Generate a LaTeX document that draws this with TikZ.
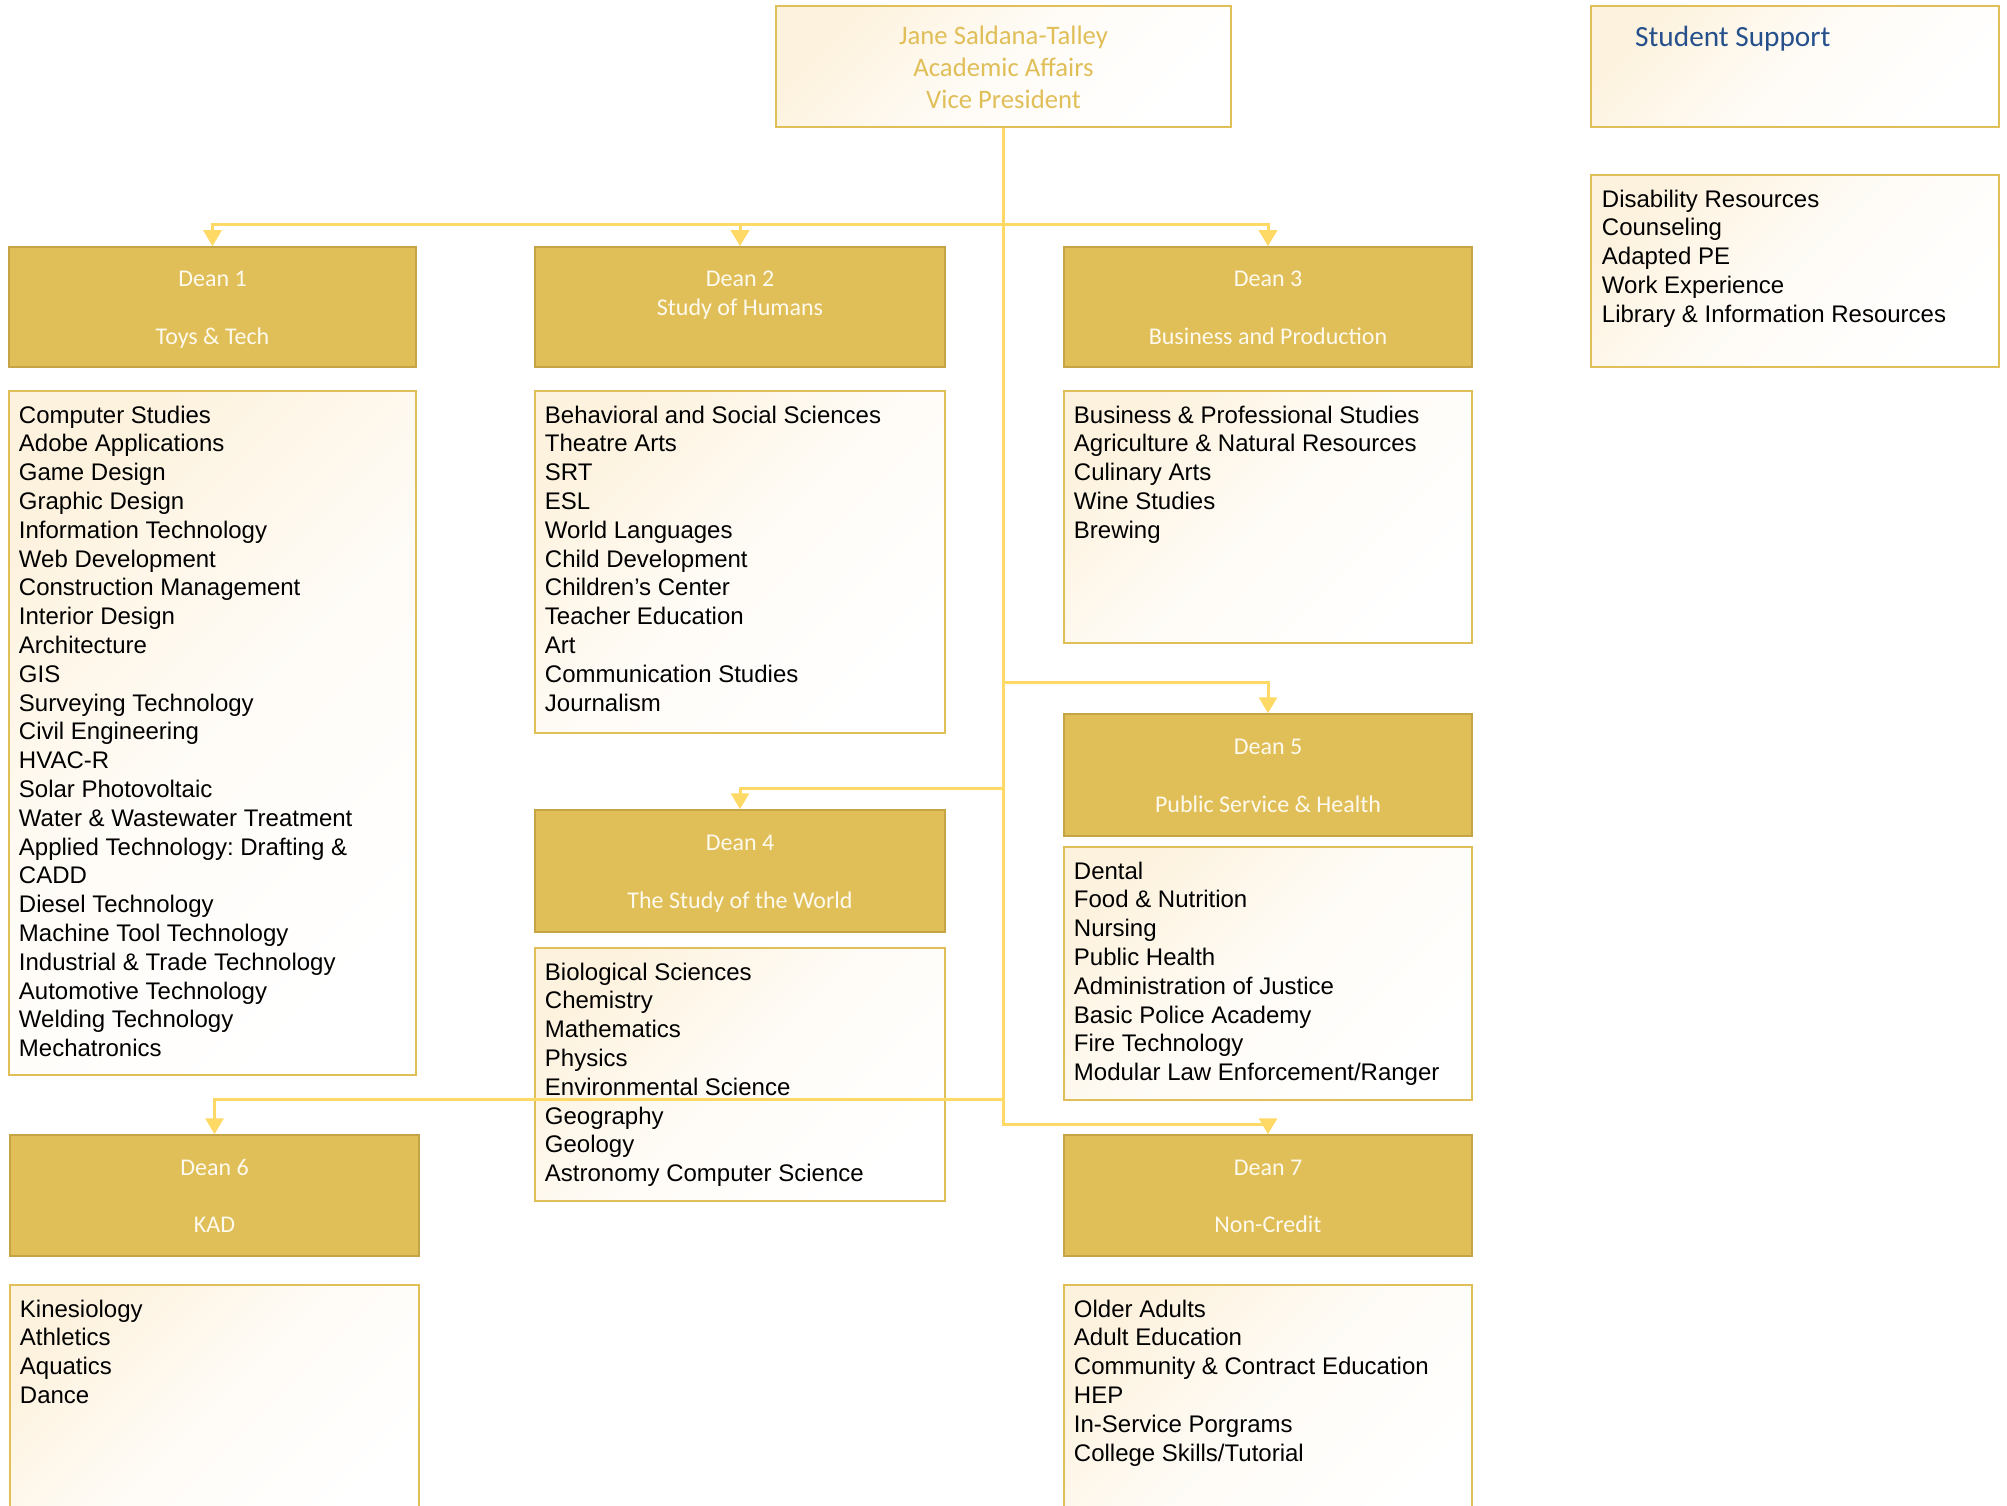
\documentclass[tikz,border=0pt]{standalone}
\usepackage{fontspec}
\setmainfont{Liberation Sans}
\newfontfamily\calfont{Carlito}
\usetikzlibrary{arrows.meta}
\frenchspacing
\definecolor{gold}{HTML}{E0BE58}
\definecolor{golddark}{HTML}{C4A445}
\definecolor{linecol}{HTML}{FFD966}
\definecolor{cream}{HTML}{FDF2DE}
\definecolor{ssblue}{HTML}{25508C}
\definecolor{deantext}{HTML}{FFFAEE}
\newcommand\deantopstrut{\rule{0pt}{25.5pt}}
\newcommand\vptopstrut{\rule{0pt}{30.5pt}}
\tikzset{
  deanbox/.style={draw=golddark, line width=1.5pt, fill=gold, text=deantext,
    font=\calfont\fontsize{24}{28.8}\selectfont, align=center, inner sep=0pt},
  listbox/.style={draw=gold, line width=2.5pt, top color=cream, bottom color=white,
    middle color=white!75!cream, shading angle=45, inner sep=0pt},
  listtext/.style={font=\fontsize{24}{28.8}\selectfont, align=left, anchor=north west,
    inner sep=0pt, text=black},
  connector/.style={draw=linecol, line width=3pt, -{Triangle[width=18pt,length=16pt]}}
}
\begin{document}
\begin{tikzpicture}[x=1pt,y=-1pt]
\useasboundingbox (0,0) rectangle (2007,1506);
\clip (0,0) rectangle (2007,1506);
\fill[white] (0,0) rectangle (2007,1506);

% VP box
\node[listbox, minimum width=455pt, minimum height=121pt, text=gold,
  font=\calfont\fontsize{26.7}{32}\selectfont, align=center] (vp) at (1003.5,66.5)
  {\vptopstrut Jane Saldana-Talley\\\strut Academic Affairs\\\strut Vice President};

% Student support
\node[listbox, minimum width=408pt, minimum height=121pt] (ssbox) at (1795,66.5) {};
\node[anchor=base west, inner sep=0pt, text=ssblue,
  font=\calfont\fontsize{29.3}{34}\selectfont] (sstitle) at (1635,47) {Student Support};
\node[listbox, minimum width=408pt, minimum height=192pt] (sslist) at (1795,271) {};
\node[listtext] (sstext) at ([xshift=12pt,yshift=-13pt]sslist.north west)
  {\strut Disability Resources\\Counseling\\Adapted PE\\Work Experience\\Library \& Information Resources};

% Dean boxes
\node[deanbox, minimum width=407pt, minimum height=120pt] (d1) at (212.5,307)
  {\deantopstrut Dean 1\\\strut\\\strut Toys \& Tech};
\node[deanbox, minimum width=410pt, minimum height=120pt] (d2) at (740,307)
  {\deantopstrut Dean 2\\\strut Study of Humans\\\strut};
\node[deanbox, minimum width=408pt, minimum height=120pt] (d3) at (1268,307)
  {\deantopstrut Dean 3\\\strut\\\strut Business and Production};
\node[deanbox, minimum width=410pt, minimum height=122pt] (d4) at (740,871)
  {\deantopstrut Dean 4\\\strut\\\strut The Study of the World};
\node[deanbox, minimum width=408pt, minimum height=122pt] (d5) at (1268,775)
  {\deantopstrut Dean 5\\\strut\\\strut Public Service \& Health};
\node[deanbox, minimum width=409pt, minimum height=121pt] (d6) at (214.5,1195.5)
  {\deantopstrut Dean 6\\\strut\\\strut KAD};
\node[deanbox, minimum width=408pt, minimum height=121pt] (d7) at (1268,1195.5)
  {\deantopstrut Dean 7\\\strut\\\strut Non-Credit};

% List boxes
\node[listbox, minimum width=407pt, minimum height=684pt] (l1) at (212.5,733) {};
\node[listtext] (t1) at ([xshift=11pt,yshift=-13pt]l1.north west)
  {\strut Computer Studies\\Adobe Applications\\Game Design\\Graphic Design\\Information Technology\\Web Development\\Construction Management\\Interior Design\\Architecture\\GIS\\Surveying Technology\\Civil Engineering\\HVAC-R\\Solar Photovoltaic\\Water \& Wastewater Treatment\\Applied Technology: Drafting \&\\CADD\\Diesel Technology\\Machine Tool Technology\\Industrial \& Trade Technology\\Automotive Technology\\Welding Technology\\Mechatronics};

\node[listbox, minimum width=410pt, minimum height=342pt] (l2) at (740,562) {};
\node[listtext] (t2) at ([xshift=11pt,yshift=-13pt]l2.north west)
  {\strut Behavioral and Social Sciences\\Theatre Arts\\SRT\\ESL\\World Languages\\Child Development\\Children’s Center\\Teacher Education\\Art\\Communication Studies\\Journalism};

\node[listbox, minimum width=408pt, minimum height=252pt] (l3) at (1268,517) {};
\node[listtext] (t3) at ([xshift=11pt,yshift=-13pt]l3.north west)
  {\strut Business \& Professional Studies\\Agriculture \& Natural Resources\\Culinary Arts\\Wine Studies\\Brewing};

\node[listbox, minimum width=410pt, minimum height=253pt] (l4) at (740,1074.5) {};
\node[listtext] (t4) at ([xshift=11pt,yshift=-13pt]l4.north west)
  {\strut Biological Sciences\\Chemistry\\Mathematics\\Physics\\Environmental Science\\Geography\\Geology\\Astronomy Computer Science};

\node[listbox, minimum width=408pt, minimum height=253pt] (l5) at (1268,973.5) {};
\node[listtext] (t5) at ([xshift=11pt,yshift=-13pt]l5.north west)
  {\strut Dental\\Food \& Nutrition\\Nursing\\Public Health\\Administration of Justice\\Basic Police Academy\\Fire Technology\\Modular Law Enforcement/Ranger};

\node[listbox, minimum width=409pt, minimum height=245pt] (l6) at (214.5,1407.5) {};
\node[listtext] (t6) at ([xshift=11pt,yshift=-13pt]l6.north west)
  {\strut Kinesiology\\Athletics\\Aquatics\\Dance};

\node[listbox, minimum width=408pt, minimum height=245pt] (l7) at (1268,1407.5) {};
\node[listtext] (t7) at ([xshift=11pt,yshift=-13pt]l7.north west)
  {\strut Older Adults\\Adult Education\\Community \& Contract Education\\HEP\\In-Service Porgrams\\College Skills/Tutorial};

% Connectors
\draw[connector] (vp.south) -- ++(0,96) -| (d1.north);
\draw[connector] (vp.south) -- ++(0,96) -| (d2.north);
\draw[connector] (vp.south) -- ++(0,96) -| (d3.north);
\draw[connector] (vp.south) -- ++(0,554) -| (d5.north);
\draw[connector] (vp.south) -- ++(0,660) -| (d4.north);
\draw[connector] (vp.south) -- ++(0,971) -| (d6.north);
\draw[connector] (vp.south) -- ++(0,996) -| (d7.north);
\end{tikzpicture}
\end{document}
